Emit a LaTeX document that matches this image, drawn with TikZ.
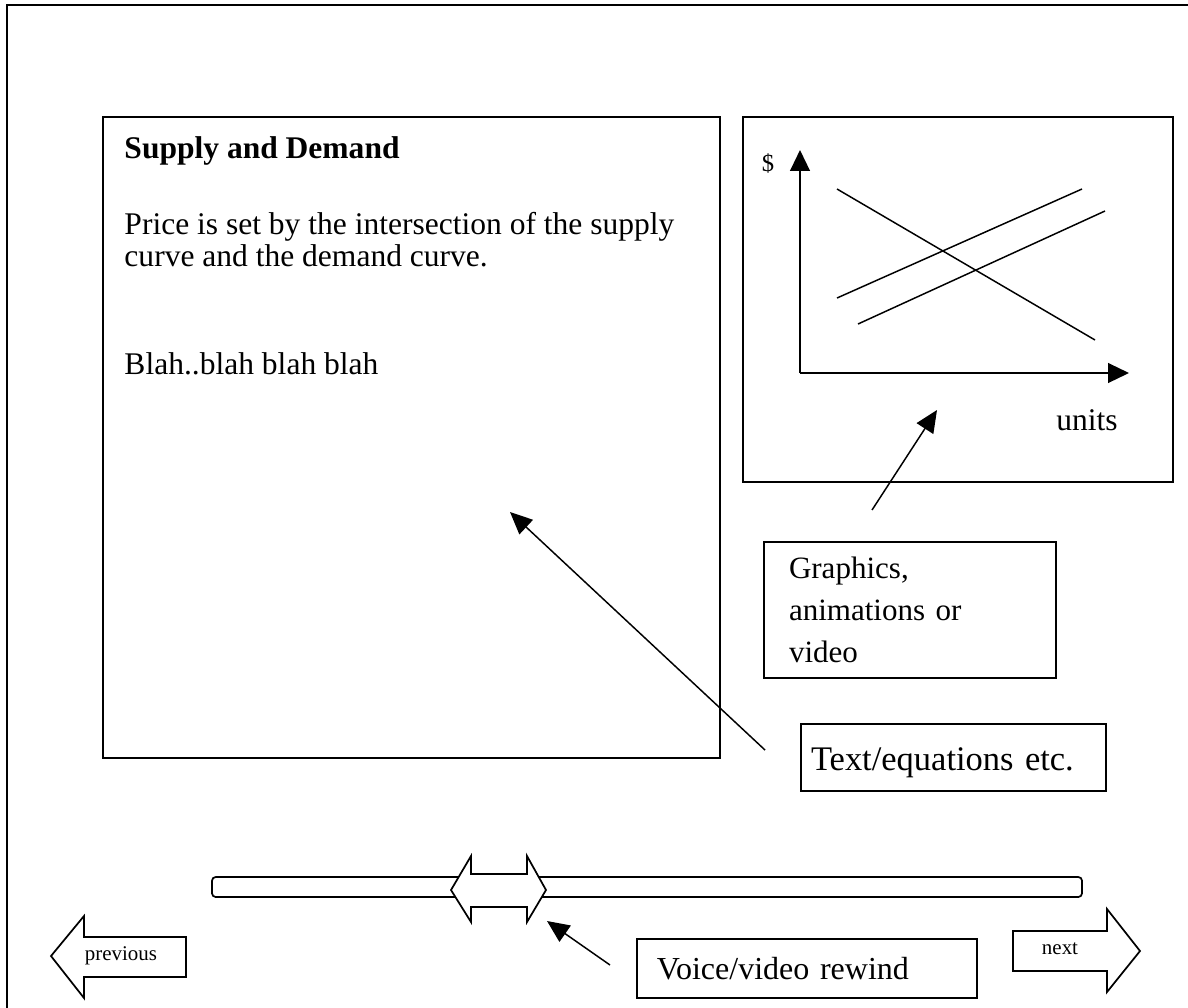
\documentclass[tikz,border=0pt]{standalone}
\usepackage{fontspec}
\setmainfont{Liberation Serif}
\usetikzlibrary{arrows.meta,positioning}

\newcommand\bodysize{\fontsize{12.8}{13.2}\selectfont}
\newcommand\tinysize{\fontsize{8.5}{9}\selectfont}

\tikzset{
  frame/.style={line width=0.9pt},
  panel/.style={draw, line width=0.8pt},
  line/.style={anchor=base west, inner sep=0pt, font=\bodysize},
  callout/.style={draw, line width=0.8pt, anchor=north west, align=left, inner ysep=0pt},
  plotline/.style={line width=0.6pt},
  axis/.style={line width=0.8pt, -{Triangle[length=8.5pt,width=8pt]}},
  pointer/.style={line width=0.6pt, -{Triangle[length=9pt,width=8pt]}},
  navarrow/.style={draw, line width=0.7pt, fill=white, line join=miter},
}

\begin{document}
\begin{tikzpicture}[x=0.406pt,y=-0.406pt]
    \useasboundingbox (0,0) rectangle (1188,1007);
    % page frame, cut by the right and bottom edges
    \draw[frame] (7,1012) -- (7,5) -- (1195,5);

    % text panel
    \draw[panel] (103,117) rectangle (720,758);
    \node[line, font=\bodysize\bfseries] (title) at (124,158) {Supply and Demand};
    \node[line] (body) at (124,234) {Price is set by the intersection of the supply};
    \node[line] (body2) at (124,266) {curve and the demand curve.};
    \node[line] (blah) at (124,374) {Blah..blah blah blah};

    % graph panel
    \draw[panel] (743,117) rectangle (1173,482);
    \coordinate (origin) at (800,373);
    \coordinate (ytop) at (800,150);
    \coordinate (xend) at (1129,373);
    \draw[axis] (origin) -- (ytop);
    \draw[axis] (origin) -- (xend);
    \draw[plotline] (837,189) -- (1095,340);
    \draw[plotline] (837,298) -- (1082,189);
    \draw[plotline] (858,324) -- (1105,211);
    \node[font=\fontsize{10}{11}\selectfont] (dollar) at (768,164) {\$};
    \node[font=\bodysize] (units) at (1087,420) {units};

    % callouts
    \node[callout, minimum height=136*0.406pt, inner xsep=25*0.406pt, text width=242*0.406pt,
      font=\fontsize{12.6}{17}\selectfont] (gfx) at (763,541) {Graphics,\\animations or\\video};
    \node[callout, text height=47*0.406pt, text depth=20*0.406pt, inner xsep=10*0.406pt, text width=285*0.406pt,
      font=\fontsize{14}{15}\selectfont] (txt) at (800,723) {Text/equations etc.};
    \node[callout, text height=40*0.406pt, text depth=19*0.406pt, inner xsep=20*0.406pt, text width=300*0.406pt,
      font=\fontsize{13}{14}\selectfont] (voice) at (636,938) {Voice/video rewind};

    \coordinate (gfxtail) at (872,510);
    \coordinate (gfxtip) at (937,410);
    \draw[pointer] (gfxtail) -- (gfxtip);
    \coordinate (txttail) at (765,750);
    \coordinate (txttip) at (510,512);
    \draw[pointer] (txttail) -- (txttip);
    \coordinate (rwtail) at (610,965);
    \coordinate (rwtip) at (547,921);
    \draw[pointer] (rwtail) -- (rwtip);

    % slider with its handle
    \draw[line width=0.7pt, rounded corners=1.5pt] (212,877) rectangle (1082,897);
    \draw[navarrow] (451,890) -- (471,856) -- (471,874) -- (527,874) -- (527,856) -- (546,890)
      -- (527,922) -- (527,907) -- (471,907) -- (471,922) -- cycle;

    % previous / next
    \draw[navarrow] (51,956) -- (84,916) -- (84,937) -- (186,937) -- (186,977) -- (84,977) -- (84,998) -- cycle;
    \node[font=\tinysize] (prev) at (121,956) {previous};
    \draw[navarrow] (1013,931) -- (1107,931) -- (1107,909) -- (1140,951) -- (1107,992) -- (1107,971) -- (1013,971) -- cycle;
    \node[font=\tinysize] (next) at (1060,949) {next};
\end{tikzpicture}
\end{document}
